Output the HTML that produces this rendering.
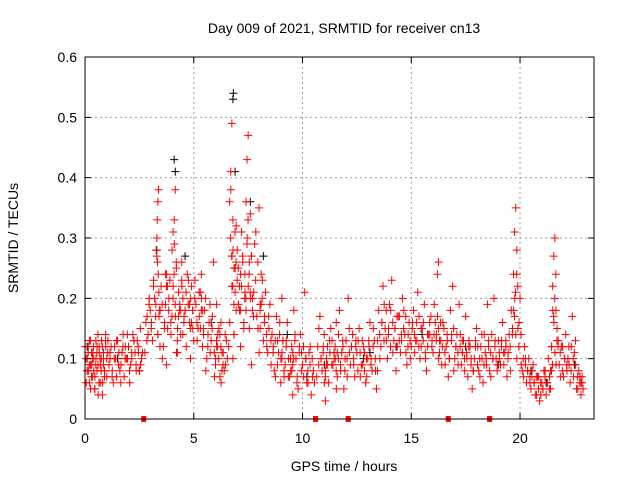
<!DOCTYPE html>
<html><head><meta charset="utf-8"><style>
body{margin:0;background:#fff}
svg{display:block;font-family:"Liberation Sans",sans-serif}
</style></head><body>
<svg id="chart" width="640" height="480" viewBox="0 0 640 480" xmlns="http://www.w3.org/2000/svg">
<rect width="640" height="480" fill="#fff"/>
<text x="344" y="33" font-size="14" text-anchor="middle">Day 009 of 2021, SRMTID for receiver cn13</text>
<text x="344" y="471" font-size="14" text-anchor="middle">GPS time / hours</text>
<text x="18" y="238" font-size="14" text-anchor="middle" transform="rotate(-90 18 238)">SRMTID / TECUs</text>
<g id="grid"></g><g id="marks"></g><g id="axes"></g>
</svg>
<script>
const xTicks=[0,5,10,15,20];
const yTicks=[0,0.1,0.2,0.3,0.4,0.5,0.6];
const yTickLabels=["0","0.1","0.2","0.3","0.4","0.5","0.6"];
const gapTimes=[2.7,10.6,12.1,16.7,18.6];
const redT=[0.05,0.1,0.15,0.2,0.25,0.3,0.35,0.4,0.45,0.5,0.55,0.6,0.65,0.7,0.75,0.8,0.85,0.9,0.95,1.0,
1.1,1.2,1.3,1.4,1.5,1.6,1.7,1.8,1.9,2.0,2.1,2.2,2.3,2.4,2.5,2.6,
2.8,2.9,3.0,3.1,3.2,3.3,3.32,3.35,3.38,3.4,3.5,3.6,
3.7,3.8,3.9,4.0,4.05,4.1,4.15,4.2,4.3,4.4,4.5,4.6,4.7,4.8,4.9,5.0,4.25,4.45,3.75,4.85,
5.1,5.2,5.3,5.4,5.5,5.6,5.7,5.8,5.9,6.0,6.1,6.2,6.3,6.4,6.5,5.35,6.05,6.25,
6.65,6.7,6.75,6.8,6.85,6.9,6.95,7.0,7.1,7.2,7.3,7.4,7.45,7.5,7.55,7.6,7.7,7.8,7.9,8.0,8.1,8.2,8.3,8.4,8.5,7.15,7.65,8.05,6.8,7.35,
8.6,8.7,8.8,8.9,9.0,9.1,9.2,9.3,9.4,9.5,9.6,9.7,9.8,9.9,10.0,10.1,10.2,10.3,10.4,10.5,9.05,9.55,
10.7,10.8,10.9,11.0,11.1,11.2,11.3,11.4,11.5,11.6,11.7,11.8,11.9,12.0,12.1,12.2,12.3,12.4,12.5,11.05,11.55,
12.6,12.7,12.8,12.9,13.0,13.1,13.2,13.3,13.4,13.5,13.6,13.7,13.8,13.9,14.0,14.1,14.2,14.3,14.4,14.5,14.6,14.7,14.8,14.9,15.0,
15.1,15.2,15.3,15.4,15.5,15.6,15.7,15.8,15.9,16.0,16.1,16.2,16.25,16.3,16.4,16.5,16.6,16.7,16.8,16.9,17.0,
17.1,17.2,17.3,17.4,17.5,17.6,17.7,17.8,17.9,18.0,18.1,18.2,18.3,18.4,18.5,18.6,18.7,18.8,18.9,19.0,
19.1,19.2,19.3,19.4,19.5,19.6,19.7,19.75,19.8,19.85,19.9,20.0,20.1,20.2,20.3,20.4,20.5,
20.6,20.7,20.8,20.9,21.0,21.1,21.2,21.3,21.4,21.45,21.5,21.55,21.6,21.65,21.7,21.8,21.9,22.0,22.1,22.2,22.3,22.4,22.5,22.6,22.7,22.8,22.85];
const redV=[.10,.08,.12,.06,.09,.11,.07,.10,.05,.13,.08,.09,.12,.06,.10,.04,.11,.08,.14,.07,
.09,.12,.06,.10,.13,.08,.11,.07,.10,.12,.09,.14,.11,.13,.08,.10,
.16,.14,.18,.13,.20,.27,.33,.36,.38,.17,.22,.12,
.19,.15,.23,.17,.31,.33,.38,.25,.21,.14,.20,.18,.24,.16,.22,.13,.11,.26,.09,.10,
.19,.15,.21,.12,.18,.10,.16,.13,.26,.09,.14,.07,.11,.08,.13,.24,.19,.16,
.36,.41,.49,.33,.25,.21,.18,.28,.22,.31,.15,.36,.43,.47,.26,.34,.20,.29,.17,.35,.24,.13,.21,.11,.19,.12,.09,.15,.10,.24,
.14,.08,.17,.11,.06,.13,.09,.16,.07,.12,.18,.10,.05,.14,.09,.21,.06,.11,.04,.08,.20,.04,
.12,.17,.08,.14,.10,.06,.15,.09,.12,.07,.18,.11,.05,.13,.20,.09,.14,.07,.11,.03,.16,
.15,.09,.12,.06,.10,.16,.08,.13,.05,.18,.12,.22,.15,.10,.19,.23,.13,.08,.17,.11,.20,.14,.09,.16,.12,
.18,.13,.21,.10,.15,.19,.08,.14,.17,.11,.16,.24,.26,.13,.09,.15,.12,.07,.18,.22,.10,
.14,.19,.09,.13,.17,.07,.12,.05,.10,.15,.08,.12,.06,.11,.19,.08,.14,.20,.10,.13,
.09,.16,.11,.07,.14,.18,.24,.31,.35,.28,.15,.20,.08,.12,.06,.10,.05,
.09,.04,.07,.03,.06,.08,.04,.10,.05,.12,.22,.27,.30,.18,.15,.09,.12,.07,.14,.10,.06,.17,.11,.05,.08,.04,.07];
const redV2=[.08,.11,.09,.13,.07,.10,.12,.05,.09,.11,.14,.06,.10,.08,.12,.09,.07,.13,.10,.11,
.11,.07,.10,.13,.09,.06,.12,.10,.14,.08,.11,.13,.09,.12,.15,.11,
.13,.19,.15,.22,.17,.14,.24,.21,.18,.12,.19,.15,
.22,.18,.16,.20,.24,.19,.26,.13,.18,.23,.16,.21,.19,.15,.18,.20,.17,.14,.22,.16,
.16,.21,.18,.14,.20,.12,.19,.15,.11,.13,.10,.12,.09,.14,.10,.18,.12,.08,
.30,.27,.22,.19,.31,.26,.23,.25,.18,.27,.20,.29,.33,.24,.21,.27,.17,.23,.26,.18,.20,.16,.14,.17,.13,.22,.18,.19,.14,.20,
.11,.13,.09,.14,.10,.08,.12,.07,.10,.09,.13,.06,.11,.08,.12,.10,.08,.09,.10,.06,.13,.10,
.09,.10,.11,.08,.12,.13,.09,.11,.08,.10,.09,.13,.08,.10,.15,.12,.10,.12,.08,.09,.11,
.11,.13,.08,.10,.13,.09,.12,.10,.08,.14,.16,.13,.18,.14,.12,.16,.15,.17,.13,.14,.15,.17,.12,.13,.15,
.14,.16,.12,.15,.13,.11,.14,.16,.12,.14,.13,.15,.11,.16,.12,.11,.14,.10,.13,.15,.12,
.11,.12,.13,.10,.11,.12,.09,.08,.12,.09,.10,.14,.09,.10,.13,.11,.10,.12,.08,.11,
.12,.11,.13,.10,.12,.14,.17,.21,.24,.22,.12,.14,.10,.09,.08,.07,.07,
.06,.07,.05,.06,.05,.07,.06,.05,.08,.09,.17,.20,.24,.13,.12,.11,.08,.10,.09,.12,.08,.10,.13,.07,.06,.06,.05];
const redV3=[.12,.06,.10,.08,.13,.05,.09,.11,.08,.07,.10,.12,.04,.11,.09,.13,.06,.10,.08,.12,
.13,.10,.08,.12,.07,.11,.09,.14,.12,.10,.06,.10,.13,.08,.11,.09,
.11,.17,.20,.16,.23,.19,.28,.30,.26,.14,.18,.10,
.16,.24,.20,.14,.28,.22,.29,.17,.15,.19,.22,.17,.12,.23,.20,.15,.11,.18,.24,.19,
.23,.13,.17,.20,.15,.08,.14,.11,.17,.07,.12,.15,.06,.11,.09,.15,.10,.14,
.12,.16,.38,.22,.28,.14,.25,.32,.19,.24,.26,.21,.18,.30,.22,.15,.27,.21,.31,.15,.19,.23,.17,.12,.15,.18,.20,.11,.27,.16,
.09,.12,.07,.13,.16,.11,.07,.13,.10,.08,.11,.14,.07,.12,.11,.07,.10,.06,.12,.07,.10,.08,
.07,.15,.10,.12,.07,.09,.11,.13,.10,.05,.14,.08,.12,.10,.07,.11,.12,.09,.13,.06,.10,
.13,.07,.09,.11,.07,.12,.10,.15,.08,.13,.10,.16,.19,.13,.15,.18,.11,.15,.12,.17,.13,.18,.11,.14,.10,
.16,.11,.13,.17,.12,.16,.10,.12,.14,.13,.19,.14,.17,.10,.13,.16,.09,.13,.10,.14,.08,
.12,.09,.14,.11,.08,.10,.13,.10,.08,.13,.12,.07,.10,.14,.09,.12,.07,.10,.13,.09,
.10,.13,.09,.12,.11,.08,.15,.18,.20,.14,.10,.16,.09,.07,.10,.08,.06,
.08,.06,.04,.07,.04,.05,.08,.06,.07,.08,.12,.18,.16,.11,.09,.13,.07,.12,.10,.08,.09,.12,.07,.09,.05,.07,.06];
const blackT=[0.1,1.5,2.5,3.3,4.1,4.15,4.6,5.8,6.8,6.82,6.9,7.6,8.2,9.3,10.2,11.0,12.8,13.1,14.3,15.5,17.5,19.0,20.5,21.2,22.5];
const blackV=[.12,.10,.08,.28,.43,.41,.27,.16,.53,.54,.41,.36,.27,.14,.07,.09,.10,.11,.12,.14,.12,.09,.08,.06,.09];

const L=85,R=594,T=57,B=419,XMAX=23.4,YMAX=0.6;
const xs=t=>L+t/XMAX*(R-L);
const ys=v=>B-v/YMAX*(B-T);
const NS="http://www.w3.org/2000/svg";
function mk(tag,attrs,parent){const e=document.createElementNS(NS,tag);for(const k in attrs)e.setAttribute(k,attrs[k]);document.getElementById(parent).appendChild(e);return e;}
yTicks.forEach((v,i)=>{
 if(i>0&&i<yTicks.length-1){const g=mk('line',{x1:L,x2:R,y1:ys(v),y2:ys(v),stroke:'#a0a0a0','stroke-dasharray':'2,3'},'grid');
 
 }
 const tk=mk('path',{d:`M${L} ${ys(v)}h6M${R} ${ys(v)}h-6`,stroke:'#000'},'axes');
 
 
 const lb=mk('text',{x:L-8,y:ys(v)+5,'font-size':14,'text-anchor':'end'},'axes');lb.textContent=yTickLabels[i];
 
 
});
xTicks.forEach(t=>{
 if(t>0){const g=mk('line',{x1:xs(t),x2:xs(t),y1:T,y2:B,stroke:'#a0a0a0','stroke-dasharray':'2,3'},'grid');
 
 }
 const tk=mk('path',{d:`M${xs(t)} ${B}v-6M${xs(t)} ${T}v6`,stroke:'#000'},'axes');
 
 
 const lb=mk('text',{x:xs(t),y:B+24,'font-size':14,'text-anchor':'middle'},'axes');lb.textContent=String(t);
 
 
});
const fr=mk('rect',{x:L,y:T,width:R-L,height:B-T,fill:'none',stroke:'#000'},'axes');


function plus(t,v,c,name,dx){if(v===undefined)return;const X=xs(t)+dx;const p=mk('path',{d:`M${X-4} ${ys(v)}h8M${X} ${ys(v)-4}v8`,stroke:c,'stroke-width':1},'marks');
 
 }
blackT.forEach((t,i)=>plus(t,blackV[i],'#000','black-point',0));
redT.forEach((t,i)=>plus(t,redV[i],'#ff0000','red-point',0));
redT.forEach((t,i)=>plus(t,redV2[i],'#ff0000','red-point',1));
redT.forEach((t,i)=>plus(t,redV3[i],'#ff0000','red-point',-1));
gapTimes.forEach(t=>{const r=mk('rect',{x:xs(t)-2.5,y:B-3,width:5,height:6,fill:'#ff0000'},'marks');
 
 });
</script>
</body></html>
